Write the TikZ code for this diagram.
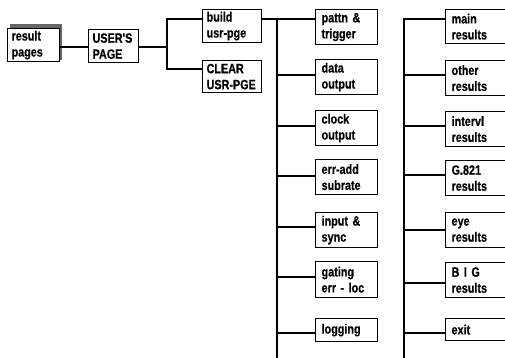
\documentclass[tikz,border=0pt]{standalone}
\usepackage{fontspec}
\newfontfamily\boxfont{Liberation Sans Bold}[FakeStretch=0.8, FakeBold=0.5]
\begin{document}
\begin{tikzpicture}[x=1pt,y=-1pt,
  box/.style={draw, line width=1.2pt, fill=white, anchor=north west,
    inner xsep=6pt, inner ysep=0pt, align=left,
    font=\boxfont\fontsize{13.5}{16}\selectfont},
  lbox/.style={box, inner xsep=4pt},
  conn/.style={line width=1.2pt}]
\useasboundingbox (0,0) rectangle (505,358);
% shadow
\fill[black!60] (10,24) rectangle (62,60);
% left boxes
\node[lbox, text width=44pt, minimum height=33pt] (rp) at (7,28) {result\\pages};
\node[lbox, text width=42pt, minimum height=33pt] (up) at (88,29) {USER'S\\PAGE};
\node[lbox, text width=51pt, minimum height=33pt] (bu) at (202,9) {build\\usr-pge};
\node[lbox, text width=51pt, minimum height=32pt] (cl) at (202,60) {CLEAR\\USR-PGE};
% middle column
\node[box, text width=50pt, minimum height=35pt] (pa) at (315,9) {pattn \&\\trigger};
\node[box, text width=50pt, minimum height=35pt] (da) at (315,59) {data\\output};
\node[box, text width=50pt, minimum height=35pt] (ck) at (315,110) {clock\\output};
\node[box, text width=50pt, minimum height=35pt] (ea) at (315,159) {err-add\\subrate};
\node[box, text width=50pt, minimum height=35pt] (ip) at (315,212) {input \&\\sync};
\node[box, text width=50pt, minimum height=36pt] (ga) at (315,261) {gating\\err - loc};
\node[box, text width=50pt, minimum height=23pt] (lo) at (315,318) {logging};
% right column
\node[box, text width=51pt, minimum height=34pt] (ma) at (445,9) {main\\results};
\node[box, text width=51pt, minimum height=35pt] (ot) at (445,60) {other\\results};
\node[box, text width=51pt, minimum height=35pt] (iv) at (445,111) {intervl\\results};
\node[box, text width=51pt, minimum height=35pt] (g8) at (445,160) {G.821\\results};
\node[box, text width=51pt, minimum height=35pt] (ey) at (445,212) {eye\\results};
\node[box, text width=51pt, minimum height=35pt] (bi) at (445,262) {B I G\\results};
\node[box, text width=51pt, minimum height=22pt] (ex) at (445,318) {exit};
% junction coordinates
\coordinate (j1) at (167,47);
\coordinate (m0) at (277,19);
\coordinate (m1) at (277,358);
\coordinate (r0) at (404,19);
\coordinate (r1) at (404,358);
% connectors
\draw[conn] (rp.east |- 0,47) -- (up.west |- 0,47);
\draw[conn] (up.east |- 0,47) -- (j1);
\draw[conn] (bu.west |- 0,19) -| (j1) |- (cl.west |- 0,69);
\draw[conn] (bu.east |- 0,19) -- (pa.west |- 0,19);
\draw[conn] (m0) -- (m1);
\draw[conn] (m0 |- 0,75) -- (da.west |- 0,75);
\draw[conn] (m0 |- 0,126) -- (ck.west |- 0,126);
\draw[conn] (m0 |- 0,176) -- (ea.west |- 0,176);
\draw[conn] (m0 |- 0,227) -- (ip.west |- 0,227);
\draw[conn] (m0 |- 0,277) -- (ga.west |- 0,277);
\draw[conn] (m0 |- 0,333) -- (lo.west |- 0,333);
\draw[conn] (r1) -- (r0) -- (ma.west |- 0,19);
\draw[conn] (r0 |- 0,75) -- (ot.west |- 0,75);
\draw[conn] (r0 |- 0,126) -- (iv.west |- 0,126);
\draw[conn] (r0 |- 0,175) -- (g8.west |- 0,175);
\draw[conn] (r0 |- 0,230) -- (ey.west |- 0,230);
\draw[conn] (r0 |- 0,283) -- (bi.west |- 0,283);
\draw[conn] (r0 |- 0,333) -- (ex.west |- 0,333);
\end{tikzpicture}
\end{document}
